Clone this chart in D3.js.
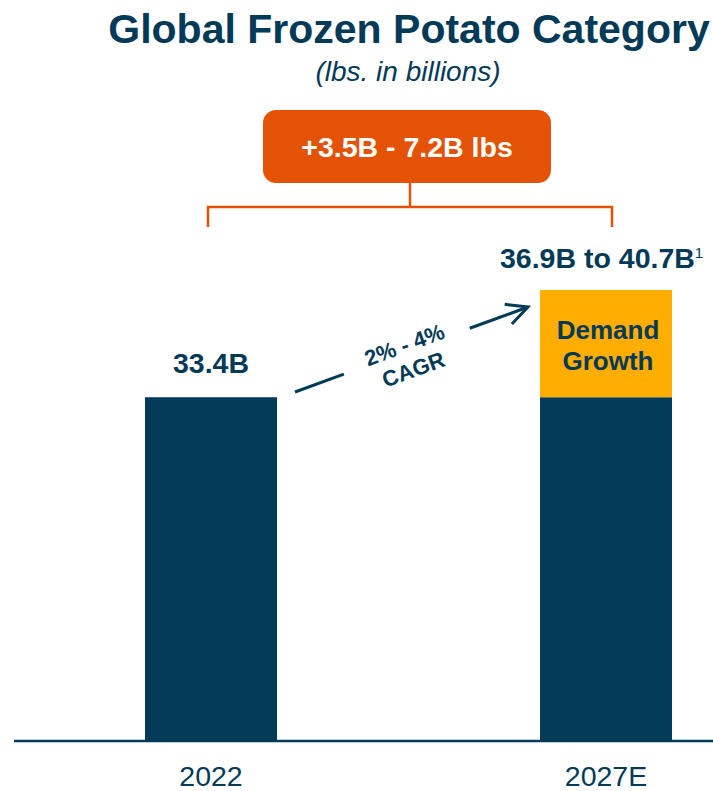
<!DOCTYPE html>
<html>
<head>
<meta charset="utf-8">
<script src="https://cdn.jsdelivr.net/npm/d3@7"></script>
<style>
  html, body { margin: 0; padding: 0; background: #fff; }
  svg { display: block; font-family: "Liberation Sans", Arial, Helvetica, sans-serif; }
</style>
</head>
<body>
<svg id="chart" width="713" height="791"></svg>
<script>
// Categories and values (billions of lbs)
const years = ["2022", "2027E"];
const baseValues = [33.4, 33.4];
const growthLow = 36.9;
const growthHigh = 40.7;
const valueLabels = ["33.4B", "36.9B to 40.7B"];
const rangeLabel = "+3.5B - 7.2B lbs";
const cagrLabel = ["2% - 4%", "CAGR"];
const growthLabel = ["Demand", "Growth"];
const axisFloor = 10;

const navy = "#033a58";
const orange = "#e35205";
const gold = "#ffad00";

const svg = d3.select("#chart");

const x = d3.scalePoint().domain(years).range([211, 606]);
const y = d3.scaleLinear().domain([axisFloor, growthHigh]).range([741, 290]);
const bw = 132;

// Title block
svg.append("text").attr("x", 409).attr("y", 43).attr("text-anchor", "middle")
  .attr("font-size", 41).attr("font-weight", "bold").attr("fill", navy)
  .text("Global Frozen Potato Category");
svg.append("text").attr("x", 408).attr("y", 81).attr("text-anchor", "middle")
  .attr("font-size", 28).attr("font-style", "italic").attr("fill", navy)
  .text("(lbs. in billions)");

// Base bars
svg.selectAll("rect.base").data(years).join("rect").attr("class", "base")
  .attr("x", d => x(d) - bw / 2).attr("width", bw)
  .attr("y", (d, i) => y(baseValues[i]))
  .attr("height", (d, i) => y(axisFloor) - y(baseValues[i]))
  .attr("fill", navy);

// Demand growth segment on 2027E
svg.append("rect")
  .attr("x", x(years[1]) - bw / 2).attr("width", bw)
  .attr("y", y(growthHigh)).attr("height", y(baseValues[1]) - y(growthHigh))
  .attr("fill", gold);
const gMid = (y(growthHigh) + y(baseValues[1])) / 2;
growthLabel.forEach((t, i) => {
  svg.append("text").attr("x", x(years[1]) + 2).attr("y", gMid - 4.5 + i * 31)
    .attr("text-anchor", "middle").attr("font-size", 26).attr("font-weight", "bold")
    .attr("fill", navy).text(t);
});

// Baseline
svg.append("line").attr("x1", 14).attr("x2", 713)
  .attr("y1", y(axisFloor)).attr("y2", y(axisFloor))
  .attr("stroke", navy).attr("stroke-width", 2.5);

// Category labels
svg.selectAll("text.cat").data(years).join("text").attr("class", "cat")
  .attr("x", d => x(d)).attr("y", 786).attr("text-anchor", "middle")
  .attr("font-size", 28.5).attr("fill", navy).text(d => d);

// Value labels
svg.append("text").attr("x", x(years[0])).attr("y", y(baseValues[0]) - 24)
  .attr("text-anchor", "middle").attr("font-size", 28.5).attr("font-weight", "bold")
  .attr("fill", navy).text(valueLabels[0]);
const hi = svg.append("text").attr("x", 500).attr("y", y(growthHigh) - 22)
  .attr("font-size", 28.5).attr("font-weight", "bold").attr("fill", navy);
hi.append("tspan").text(valueLabels[1]);
hi.append("tspan").attr("font-size", 15).attr("font-weight", "normal").attr("dy", -10).text("1");

// Bracket to range box
const bx1 = x(years[0]) - 3, bx2 = x(years[1]) + 6, by = 207;
svg.append("path")
  .attr("d", `M${bx1},227 V${by} H${bx2} V227 M410,${by} V183`)
  .attr("fill", "none").attr("stroke", orange).attr("stroke-width", 2.5);
svg.append("rect").attr("x", 263).attr("y", 110).attr("width", 288).attr("height", 73)
  .attr("rx", 13).attr("fill", orange);
svg.append("text").attr("x", 407).attr("y", 157).attr("text-anchor", "middle")
  .attr("font-size", 28.5).attr("font-weight", "bold").attr("fill", "#fff").text(rangeLabel);

// CAGR arrow
const a0 = [295, 392], a1 = [528, 307];
const ang = Math.atan2(a1[1] - a0[1], a1[0] - a0[0]);
const len = Math.hypot(a1[0] - a0[0], a1[1] - a0[1]);
const arrow = svg.append("g")
  .attr("transform", `translate(${a0[0]},${a0[1]}) rotate(${ang * 180 / Math.PI})`);
arrow.append("line").attr("x1", 0).attr("x2", 52).attr("y1", 0).attr("y2", 0)
  .attr("stroke", navy).attr("stroke-width", 3);
arrow.append("line").attr("x1", 186).attr("x2", len).attr("y1", 0).attr("y2", 0)
  .attr("stroke", navy).attr("stroke-width", 3);
arrow.append("path").attr("d", `M${len - 21},-10.5 L${len},0 L${len - 21},10.5`)
  .attr("fill", "none").attr("stroke", navy).attr("stroke-width", 3)
  .attr("stroke-linejoin", "miter");
cagrLabel.forEach((t, i) => {
  arrow.append("text").attr("x", 119).attr("y", 1 + i * 26)
    .attr("text-anchor", "middle").attr("font-size", 22).attr("font-weight", "bold")
    .attr("fill", navy).text(t);
});
</script>
</body>
</html>
